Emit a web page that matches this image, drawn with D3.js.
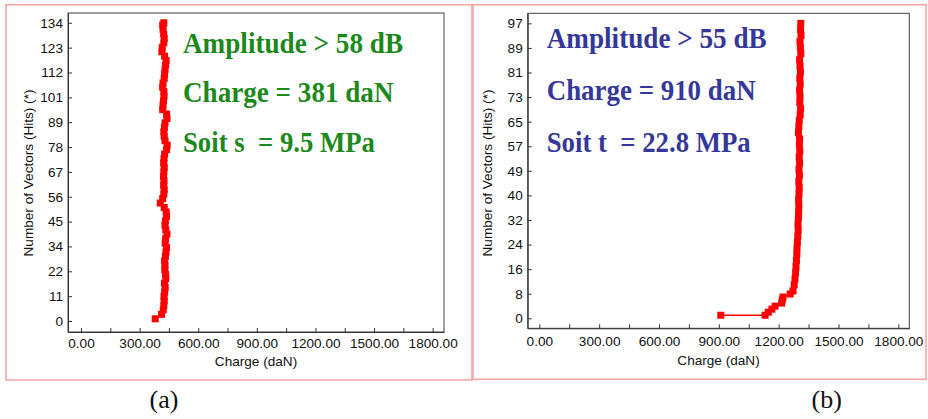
<!DOCTYPE html>
<html><head><meta charset="utf-8">
<script src="https://cdn.jsdelivr.net/npm/d3@7"></script>
<style>html,body{margin:0;padding:0;background:#fff;}svg{display:block;}</style>
</head><body>
<script>
// ---- data ----
const hitsA = [1,3,5,7,9,11,13,15,17,19,21,23,25,27,29,31,33,35,37,39,41,43,45,47,49,51,53,55,57,59,61,63,65,67,69,71,73,75,77,79,81,83,85,87,89,91,93,95,97,99,101,103,105,107,109,111,113,115,117,119,121,123,125,127,129,131,133,134];
const chargeA = [380,412,421,424,426,425,428,431,427,434,433,429,430,428,432,435,438,431,433,440,434,430,432,438,436,426,406,418,424,426,423,425,422,424,426,423,425,428,438,441,430,426,424,427,430,440,438,418,420,422,425,424,418,420,426,428,430,433,436,428,414,416,424,426,423,420,418,424];
const hitsB = [1,1,2,3,4,5,6,7,8,9,11,13,15,17,19,21,23,25,27,29,31,33,35,37,39,41,43,45,47,49,51,53,55,57,59,61,63,65,67,69,71,73,75,77,79,81,83,85,87,89,91,93,95,97];
const chargeB = [910,1132,1148,1166,1182,1215,1218,1222,1258,1272,1278,1282,1285,1287,1289,1291,1292,1294,1296,1298,1297,1299,1300,1301,1300,1302,1303,1301,1304,1302,1305,1303,1306,1304,1305,1299,1301,1303,1308,1310,1306,1307,1305,1308,1306,1309,1307,1305,1311,1309,1307,1312,1310,1311];
const xTickValues = [0,150,300,450,600,750,900,1050,1200,1350,1500,1650,1800];
const xTickLabels = ["0.00","","300.00","","600.00","","900.00","","1200.00","","1500.00","","1800.00"];
const yTickLabelsA = ["0","11","22","34","45","56","67","78","89","101","112","123","134"];
const yTickLabelsB = ["0","8","16","24","32","40","49","57","65","73","81","89","97"];
const yMaxA = 134, yMaxB = 97;
const notesA = ["Amplitude > 58 dB","Charge = 381 daN","Soit s  = 9.5 MPa"];
const notesB = ["Amplitude > 55 dB","Charge = 910 daN","Soit t  = 22.8 MPa"];
const xTitle = "Charge (daN)";
const yTitle = "Number of Vectors (Hits) (*)";
const captions = ["(a)","(b)"];

const W = 928, H = 419;
const svg = d3.select("body").append("svg").attr("width", W).attr("height", H);
const sans = "Arial, 'Liberation Sans', sans-serif";
const serif = "'Liberation Serif','Times New Roman',serif";

const panels = [
  {frame:[6,4.7,472,380], l:68, t:13, r:444, b:332, xDom:[-66.5,1858], yDom:[-4.94,138.4],
   yMax:yMaxA, yLabels:yTickLabelsA, hits:hitsA, charge:chargeA, notes:notesA, noteColor:"#1c891c",
   noteX:183, noteY:[53,102,151.5], noteW:[220,210.5,192], xLabY:348, xTitleY:366, yTitleX:32.5, cap:captions[0], capX:164},
  {frame:[473,4.7,926,379.3], l:527.7, t:13.3, r:909.3, b:328.3, xDom:[-58.2,1855], yDom:[-3.29,100.3],
   yMax:yMaxB, yLabels:yTickLabelsB, hits:hitsB, charge:chargeB, notes:notesB, noteColor:"#35389a",
   noteX:546.7, noteY:[48,100,151.5], noteW:[220,209,204], xLabY:346.5, xTitleY:365, yTitleX:492, cap:captions[1], capX:826.7}
];

panels.forEach(p => {
  const g = svg.append("g");
  g.append("rect").attr("x", p.frame[0]).attr("y", p.frame[1])
    .attr("width", p.frame[2]-p.frame[0]).attr("height", p.frame[3]-p.frame[1])
    .attr("fill","none").attr("stroke","#f5a5a5").attr("stroke-width",1.6);

  const x = d3.scaleLinear().domain(p.xDom).range([p.l, p.r]);
  const y = d3.scaleLinear().domain(p.yDom).range([p.b, p.t]);

  g.append("rect").attr("x", p.l).attr("y", p.t).attr("width", p.r-p.l).attr("height", p.b-p.t)
    .attr("fill","#fff").attr("stroke","#404040").attr("stroke-width",1);

  const xAxis = d3.axisBottom(x).tickValues(xTickValues)
    .tickFormat((d,i) => xTickLabels[i]).tickSizeInner(-4).tickSizeOuter(0).tickPadding(0);
  const xa = g.append("g").attr("transform", `translate(0,${p.b})`).call(xAxis);
  xa.select(".domain").attr("stroke","#333");
  xa.selectAll(".tick line").attr("stroke","#333");
  xa.selectAll(".tick text").attr("y", p.xLabY - p.b).attr("dy", 0)
    .attr("font-family",sans).attr("font-size",13.6).attr("fill","#111");

  const yTicks = p.yLabels.map((s,i) => p.yMax * i / 12);
  const yAxis = d3.axisLeft(y).tickValues(yTicks)
    .tickFormat((d,i) => p.yLabels[i]).tickSizeInner(-4).tickSizeOuter(0).tickPadding(5);
  const ya = g.append("g").attr("transform", `translate(${p.l},0)`).call(yAxis);
  ya.select(".domain").attr("stroke","#333");
  ya.selectAll(".tick line").attr("stroke","#333");
  ya.selectAll(".tick text").attr("font-family",sans).attr("font-size",13.6).attr("fill","#111");

  g.append("text").attr("x",(p.l+p.r)/2).attr("y",p.xTitleY).attr("text-anchor","middle")
    .attr("font-family",sans).attr("font-size",13.6).attr("fill","#111").text(xTitle);
  g.append("text").attr("transform",`translate(${p.yTitleX},173) rotate(-90)`).attr("text-anchor","middle")
    .attr("font-family",sans).attr("font-size",13.6).attr("fill","#111").text(yTitle);

  const pts = p.hits.map((h,i) => [p.charge[i], h]);
  g.append("path").datum(pts)
    .attr("d", d3.line().x(d => x(d[0])).y(d => y(d[1])))
    .attr("fill","none").attr("stroke","#ff0000").attr("stroke-width",1.6);
  g.selectAll("rect.m").data(pts).join("rect").attr("class","m")
    .attr("x", d => x(d[0]) - 3.5).attr("y", d => y(d[1]) - 3.5)
    .attr("width", 7).attr("height", 7).attr("fill","#ff0000");

  p.notes.forEach((t,i) => {
    g.append("text").attr("x", p.noteX).attr("y", p.noteY[i])
      .attr("font-family",serif).attr("font-weight","bold")
      .attr("font-size",29).attr("fill",p.noteColor)
      .attr("textLength", p.noteW[i]).attr("lengthAdjust","spacingAndGlyphs")
      .style("white-space","pre").text(t);
  });

  svg.append("text").attr("x", p.capX).attr("y", 408).attr("text-anchor","middle")
    .attr("font-family",serif).attr("font-size",26).attr("fill","#111").text(p.cap);
});
</script>
</body></html>
